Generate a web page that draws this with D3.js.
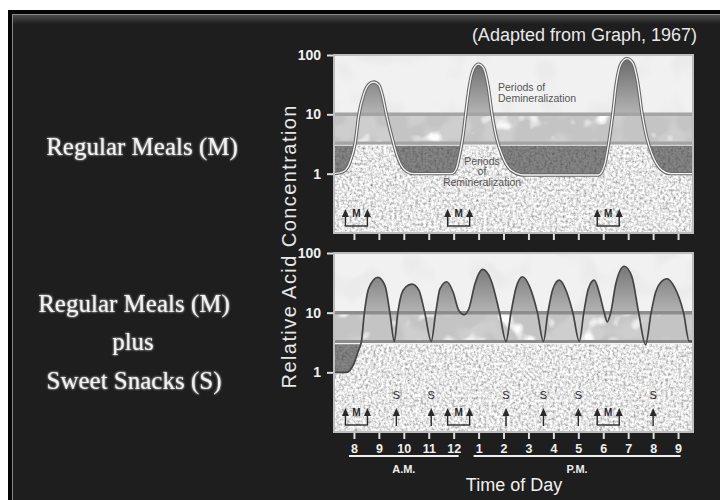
<!DOCTYPE html>
<html>
<head>
<meta charset="utf-8">
<title>Relative Acid Concentration</title>
<script src="https://cdnjs.cloudflare.com/ajax/libs/d3/7.8.5/d3.min.js"></script>
<style>
  body { margin: 0; background: #fff; }
  svg { display: block; }
</style>
</head>
<body>
<svg id="chart" width="720" height="500"></svg>
<script>
"use strict";

// Hours on the time axis (24h clock) and how they are printed
var hours = [8, 9, 10, 11, 12, 13, 14, 15, 16, 17, 18, 19, 20, 21];
var hourLabels = ["8", "9", "10", "11", "12", "1", "2", "3", "4", "5", "6", "7", "8", "9"];
var acidTicks = [1, 10, 100];

// Grey bands: demineralization above 10, remineralization below ~3.3
var demineralLevel = 10;
var remineralLevel = 3.3;

// When meals and snacks are eaten (hour of day)
var mealTimes = [8.1, 12.2, 18.2];
var snackTimes = [9.7, 11.1, 14.1, 15.6, 17.0, 20.0];

// Upper curve: regular meals only
var mealHours = [7.2, 7.6, 7.85, 8.05, 8.2, 8.4, 8.6, 8.8, 9.0, 9.15, 9.3, 9.5, 9.7, 10.0, 10.4, 11.9,
    12.1, 12.25, 12.38, 12.48, 12.62, 12.8, 13.0, 13.2, 13.38, 13.54, 13.72, 13.95, 14.3, 14.8,
    17.8, 18.05, 18.22, 18.38, 18.52, 18.72, 18.95, 19.18, 19.38, 19.56, 19.75, 19.98, 20.35, 20.7, 21.6];
var mealAcid = [1.0, 1.1, 1.6, 3.3, 10, 22, 32, 35, 31, 20, 10, 4.5, 2.2, 1.2, 1.0, 1.0,
    1.2, 2.2, 4.5, 10, 28, 58, 70, 60, 30, 10, 4, 2, 1.15, 0.95,
    0.95, 1.4, 3.3, 10, 32, 72, 87, 74, 35, 10, 4, 2, 1.15, 1.0, 1.0];

// Lower curve: meals plus sweet snacks
var snackHours = [7.2, 7.7, 8.0, 8.18, 8.3, 8.42, 8.6, 8.96, 9.25, 9.44, 9.62,
    9.76, 9.9, 10.08, 10.32, 10.6, 10.84, 11.1,
    11.28, 11.45, 11.72, 11.98, 12.2, 12.42, 12.62, 12.85, 13.16, 13.5, 13.84, 14.1,
    14.3, 14.5, 14.76, 15.05, 15.36, 15.6,
    15.78, 15.98, 16.24, 16.5, 16.78, 17.04,
    17.22, 17.4, 17.64, 17.86, 18.04, 18.16, 18.3, 18.5, 18.84, 19.15, 19.42, 19.7,
    19.92, 20.1, 20.3, 20.56, 20.85, 21.22, 21.45, 21.6];
var snackAcid = [1.0, 1.0, 1.4, 2.3, 3.3, 10, 26, 39, 28, 10, 3.3,
    10, 20, 27, 30, 24, 10, 3.3,
    10, 25, 33, 22, 11, 9.3, 12, 30, 53, 35, 10, 3.3,
    10, 26, 40, 27, 10, 3.3,
    10, 25, 35, 24, 10, 3.3,
    10, 25, 35, 20, 10, 7, 10, 30, 60, 40, 10, 2.9,
    10, 22, 32, 37, 27, 10, 3.3, 3.3];

var svg = d3.select("#chart");
var defs = svg.append("defs");

var x = d3.scaleLinear().domain([7.2, 21.6]).range([334, 693]);

// ---- filters: textures and glow ----
function noiseFilter(id, freq, octaves, seed, matrix) {
    var f = defs.append("filter")
        .attr("id", id)
        .attr("x", 0).attr("y", 0).attr("width", 1).attr("height", 1);
    f.append("feTurbulence")
        .attr("type", "fractalNoise")
        .attr("baseFrequency", freq)
        .attr("numOctaves", octaves)
        .attr("seed", seed);
    f.append("feColorMatrix").attr("type", "matrix").attr("values", matrix);
}
noiseFilter("speckle", 0.38, 3, 3, "1.3 0 0 0 0.14  1.3 0 0 0 0.14  1.3 0 0 0 0.14  0 0 0 0 1");
noiseFilter("blobsLight", 0.03, 2, 5, "0 0 0 0 0.83  0 0 0 0 0.83  0 0 0 0 0.83  5 0 0 0 -2.6");
noiseFilter("blobsMid", 0.035, 2, 9, "0 0 0 0 0.62  0 0 0 0 0.62  0 0 0 0 0.62  6 0 0 0 -2.8");
noiseFilter("blobsWhite", 0.045, 2, 14, "0 0 0 0 0.97  0 0 0 0 0.97  0 0 0 0 0.97  7 0 0 0 -4.2");

var glow = defs.append("filter").attr("id", "glow")
    .attr("x", "-10%").attr("y", "-30%").attr("width", "120%").attr("height", "160%");
glow.append("feGaussianBlur").attr("in", "SourceGraphic").attr("stdDeviation", 1.3).attr("result", "b");
var merge = glow.append("feMerge");
merge.append("feMergeNode").attr("in", "b");
merge.append("feMergeNode").attr("in", "SourceGraphic");

var topBand = defs.append("linearGradient").attr("id", "topBand")
    .attr("x1", 0).attr("y1", 0).attr("x2", 0).attr("y2", 1);
topBand.append("stop").attr("offset", 0).attr("stop-color", "#4a4a4a");
topBand.append("stop").attr("offset", 1).attr("stop-color", "#1e1e1e");

// ---- frame ----
svg.append("rect").attr("x", 8).attr("y", 10).attr("width", 712).attr("height", 490).attr("fill", "#050505");
svg.append("rect").attr("x", 12).attr("y", 14).attr("width", 708).attr("height", 486).attr("fill", "#8a8a8a");
svg.append("rect").attr("x", 13).attr("y", 15).attr("width", 707).attr("height", 485).attr("fill", "#1e1e1e");
svg.append("rect").attr("x", 13).attr("y", 15).attr("width", 707).attr("height", 9).attr("fill", "url(#topBand)");

// ---- titles ----
var serif = "'Liberation Serif', 'DejaVu Serif', serif";
var sans = "'Liberation Sans', Arial, Helvetica, sans-serif";

svg.append("text")
    .attr("x", 697).attr("y", 41)
    .attr("text-anchor", "end")
    .style("font-family", sans).style("font-size", "18px")
    .attr("fill", "#e8e8e8")
    .text("(Adapted from Graph, 1967)");

var leftLabels = [
    {text: "Regular Meals (M)", x: 142, y: 155},
    {text: "Regular Meals (M)", x: 134, y: 312},
    {text: "plus", x: 133, y: 350},
    {text: "Sweet Snacks (S)", x: 134, y: 389}
];
svg.selectAll("text.side")
    .data(leftLabels)
    .enter()
    .append("text")
    .attr("class", "side")
    .attr("x", function(d) { return d.x; })
    .attr("y", function(d) { return d.y; })
    .attr("text-anchor", "middle")
    .attr("filter", "url(#glow)")
    .style("font-family", serif).style("font-size", "25px")
    .attr("fill", "#f2f2f2")
    .text(function(d) { return d.text; });

svg.append("text")
    .attr("transform", "translate(296,247) rotate(-90)")
    .attr("text-anchor", "middle")
    .attr("textLength", 283).attr("lengthAdjust", "spacing")
    .style("font-family", sans).style("font-size", "20px")
    .attr("fill", "#e6e6e6")
    .text("Relative Acid Concentration");

// ---- panels ----
var panels = [
    {id: "p1", top: 55, bottom: 233, hrs: mealHours, acid: mealAcid, snacks: [],
        line: "#a4a4a4", curve: "#666", halo: true, hourText: false},
    {id: "p2", top: 253, bottom: 432, hrs: snackHours, acid: snackAcid, snacks: snackTimes,
        line: "#8c8c8c", curve: "#444", halo: false, hourText: true}
];

function clipRect(id, x0, y0, x1, y1) {
    defs.append("clipPath").attr("id", id)
        .append("rect")
        .attr("x", x0).attr("y", y0)
        .attr("width", x1 - x0).attr("height", y1 - y0);
}

function arrow(g, cx, yTop, yEnd) {
    g.append("path")
        .attr("d", "M" + (cx - 3.5) + "," + (yTop + 8) + "L" + cx + "," + yTop + "L" + (cx + 3.5) + "," + (yTop + 8) + "Z")
        .attr("fill", "#2a2a2a");
    g.append("line")
        .attr("x1", cx).attr("x2", cx)
        .attr("y1", yTop + 6).attr("y2", yEnd)
        .attr("stroke", "#2a2a2a").attr("stroke-width", 1.4);
}

panels.forEach(function(p) {
    var y = d3.scaleLog().domain([0.1, 100]).range([p.bottom, p.top]);
    var x0 = x.range()[0], x1 = x.range()[1];
    var yDem = y(demineralLevel), yRem = y(remineralLevel);
    var pts = p.hrs.map(function(h, i) { return [h, p.acid[i]]; });

    clipRect(p.id + "all", x0, p.top, x1, p.bottom);
    clipRect(p.id + "dem", x0, p.top, x1, yDem);
    clipRect(p.id + "rem", x0, yRem, x1, p.bottom);

    var grad = defs.append("linearGradient").attr("id", p.id + "grad")
        .attr("gradientUnits", "userSpaceOnUse")
        .attr("x1", 0).attr("y1", p.top).attr("x2", 0).attr("y2", yDem);
    grad.append("stop").attr("offset", 0).attr("stop-color", "#666");
    grad.append("stop").attr("offset", 1).attr("stop-color", "#b4b4b4");

    var g = svg.append("g").attr("clip-path", "url(#" + p.id + "all)");

    // background layers
    g.append("rect").attr("x", x0).attr("y", p.top).attr("width", x1 - x0).attr("height", yDem - p.top).attr("fill", "#f1f1f1");
    g.append("rect").attr("x", x0).attr("y", p.top).attr("width", x1 - x0).attr("height", yDem - p.top).attr("fill", "#000").attr("filter", "url(#blobsLight)");
    g.append("rect").attr("x", x0).attr("y", yDem).attr("width", x1 - x0).attr("height", yRem - yDem).attr("fill", "#c4c4c4");
    g.append("rect").attr("x", x0).attr("y", yDem).attr("width", x1 - x0).attr("height", yRem - yDem).attr("fill", "#000").attr("filter", "url(#blobsMid)");
    g.append("rect").attr("x", x0).attr("y", yDem).attr("width", x1 - x0).attr("height", yRem - yDem).attr("fill", "#000").attr("filter", "url(#blobsWhite)");
    g.append("rect").attr("x", x0).attr("y", yRem).attr("width", x1 - x0).attr("height", p.bottom - yRem).attr("fill", "#000").attr("filter", "url(#speckle)");

    var line = d3.line()
        .x(function(d) { return x(d[0]); })
        .y(function(d) { return y(d[1]); })
        .curve(d3.curveMonotoneX);

    // remineralization: everything above the curve, kept only below the lower band
    g.append("path")
        .datum(pts)
        .attr("clip-path", "url(#" + p.id + "rem)")
        .attr("d", d3.area()
            .x(function(d) { return x(d[0]); })
            .y0(p.top)
            .y1(function(d) { return y(d[1]); })
            .curve(d3.curveMonotoneX))
        .attr("fill", "#444").attr("fill-opacity", 0.65);

    // demineralization: everything under the curve, kept only above 10
    g.append("path")
        .datum(pts)
        .attr("clip-path", "url(#" + p.id + "dem)")
        .attr("d", d3.area()
            .x(function(d) { return x(d[0]); })
            .y0(p.bottom)
            .y1(function(d) { return y(d[1]); })
            .curve(d3.curveMonotoneX))
        .attr("fill", "url(#" + p.id + "grad)");

    // band lines
    g.append("line").attr("x1", x0).attr("x2", x1).attr("y1", yDem).attr("y2", yDem)
        .attr("stroke", p.line).attr("stroke-width", 3.5);
    g.append("line").attr("x1", x0).attr("x2", x1).attr("y1", yRem + 2.2).attr("y2", yRem + 2.2)
        .attr("stroke", "#f4f4f4").attr("stroke-width", 1.4);
    g.append("line").attr("x1", x0).attr("x2", x1).attr("y1", yRem).attr("y2", yRem)
        .attr("stroke", p.line).attr("stroke-width", 3);

    // curve
    g.append("path").datum(pts).attr("d", line)
        .attr("fill", "none").attr("stroke", p.curve).attr("stroke-width", p.halo ? 3.4 : 1.7);
    if (p.halo) {
        g.append("path").datum(pts).attr("d", line)
            .attr("fill", "none").attr("stroke", "#f6f6f6").attr("stroke-width", 1.3);

        var notes = [
            {lines: ["Periods of", "Demineralization"], x: 498, anchor: "start", y: 91, gap: 10.5},
            {lines: ["Periods", "of", "Remineralization"], x: 482, anchor: "middle", y: 164.5, gap: 10.5}
        ];
        notes.forEach(function(n) {
            var t = g.append("text")
                .attr("x", n.x).attr("y", n.y)
                .attr("text-anchor", n.anchor)
                .style("font-family", sans).style("font-size", "10.5px")
                .attr("fill", "#555");
            n.lines.forEach(function(s, i) {
                t.append("tspan").attr("x", n.x).attr("dy", i === 0 ? 0 : n.gap).text(s);
            });
        });
    }

    // meal and snack markers
    var headTop = p.bottom - 24, bracketY = p.bottom - 7;
    mealTimes.forEach(function(m) {
        var cx = x(m);
        arrow(g, cx - 11, headTop, bracketY);
        arrow(g, cx + 11, headTop, bracketY);
        g.append("line").attr("x1", cx - 11.7).attr("x2", cx + 11.7)
            .attr("y1", bracketY).attr("y2", bracketY)
            .attr("stroke", "#2a2a2a").attr("stroke-width", 1.4);
        g.append("text").attr("x", cx).attr("y", headTop + 8)
            .attr("text-anchor", "middle")
            .style("font-family", sans).style("font-size", "10px").style("font-weight", "bold")
            .attr("fill", "#2a2a2a").text("M");
    });
    p.snacks.forEach(function(s) {
        var cx = x(s);
        arrow(g, cx, headTop, bracketY + 1);
        g.append("text").attr("x", cx).attr("y", headTop - 9)
            .attr("text-anchor", "middle")
            .style("font-family", sans).style("font-size", "11px")
            .attr("fill", "#2a2a2a").text("S");
    });

    // panel edge
    svg.append("rect").attr("x", x0).attr("y", p.top).attr("width", x1 - x0).attr("height", p.bottom - p.top)
        .attr("fill", "none").attr("stroke", "#bdbdbd").attr("stroke-width", 2);

    // axes
    var yAxis = svg.append("g")
        .attr("transform", "translate(" + (x0 - 1) + ",0)")
        .call(d3.axisLeft(y).tickValues(acidTicks).tickFormat(d3.format("d")).tickSize(6).tickPadding(6));
    var xAxis = svg.append("g")
        .attr("transform", "translate(0," + (p.bottom + 1) + ")")
        .call(d3.axisBottom(x).tickValues(hours)
            .tickFormat(function(d, i) { return p.hourText ? hourLabels[i] : ""; })
            .tickSize(6).tickPadding(5));
    [yAxis, xAxis].forEach(function(a) {
        a.select(".domain").remove();
        a.selectAll(".tick line").attr("stroke", "#dcdcdc").attr("stroke-width", 2);
        a.selectAll(".tick text")
            .attr("fill", "#f0f0f0")
            .style("font-family", sans).style("font-weight", "bold");
    });
    yAxis.selectAll(".tick text").style("font-size", "14px");
    xAxis.selectAll(".tick text").style("font-size", "12.5px");
});

// ---- A.M. / P.M. and axis title ----
var halves = [
    {label: "A.M.", from: 7.8, to: 12.2},
    {label: "P.M.", from: 12.8, to: 21.1}
];
halves.forEach(function(h) {
    svg.append("line")
        .attr("x1", x(h.from)).attr("x2", x(h.to))
        .attr("y1", 456).attr("y2", 456)
        .attr("stroke", "#eeeeee").attr("stroke-width", 2);
    svg.append("text")
        .attr("x", (x(h.from) + x(h.to)) / 2).attr("y", 473)
        .attr("text-anchor", "middle")
        .style("font-family", sans).style("font-size", "11px").style("font-weight", "bold")
        .attr("fill", "#eeeeee")
        .text(h.label);
});

svg.append("text")
    .attr("x", 514).attr("y", 491)
    .attr("text-anchor", "middle")
    .style("font-family", sans).style("font-size", "18px")
    .attr("fill", "#f0f0f0")
    .text("Time of Day");
</script>
</body>
</html>
